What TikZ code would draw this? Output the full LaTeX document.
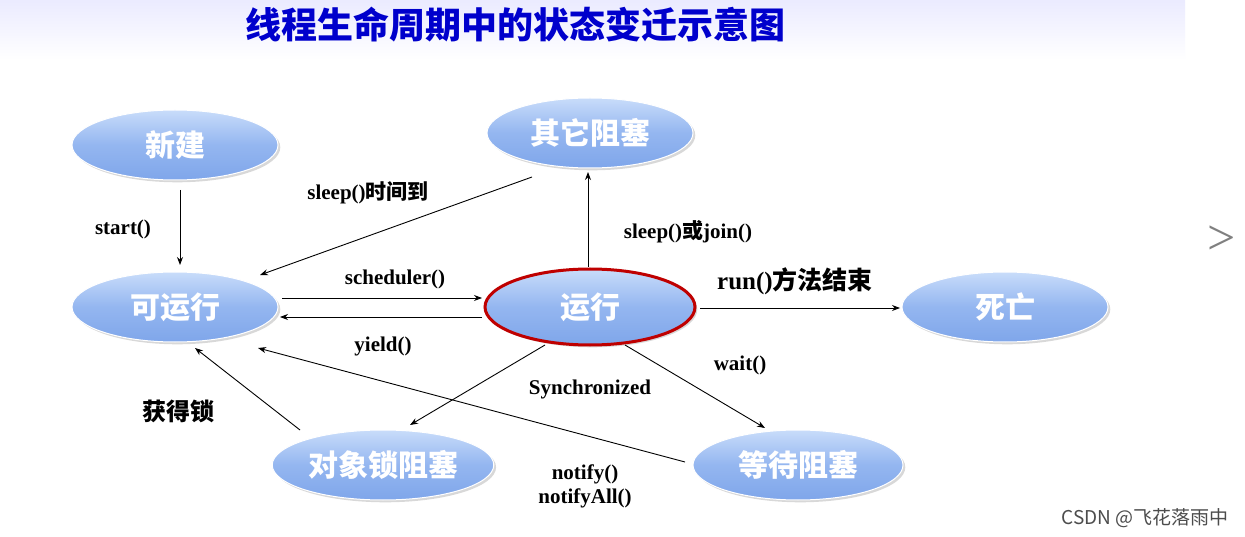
\documentclass[tikz,border=0pt]{standalone}
\usepackage{fontspec}
\setmainfont{Liberation Serif}
\newfontfamily\cjk{Noto Sans CJK SC}
\usetikzlibrary{arrows.meta,shadows,shapes.geometric}
\definecolor{ntop}{HTML}{C8DCFA}
\definecolor{nmid}{HTML}{94B6F0}
\definecolor{nbot}{HTML}{7FA6EA}
\begin{document}
\begin{tikzpicture}[x=1pt,y=-1pt,
  st/.style={ellipse,minimum width=206pt,minimum height=70pt,draw=white,line width=1pt,
    top color=ntop,bottom color=nbot,middle color=nmid,
    font=\cjk\bfseries\fontsize{30}{32}\selectfont,text=white,drop shadow={opacity=0.3}},
  ar/.style={-{Stealth[length=8pt,width=6pt]},line width=0.9pt},
  lb/.style={font=\bfseries\fontsize{21}{24}\selectfont,align=center}]
\useasboundingbox (0,0) rectangle (1245,537);
\fill[white] (0,0) rectangle (1245,537);
\shade[top color=blue!8,bottom color=white] (0,0) rectangle (1185,60);
\node[font=\cjk\bfseries\fontsize{36}{38}\selectfont,text=blue!80!black] (title) at (515,25) {线程生命周期中的状态变迁示意图};
\node[font=\fontsize{50}{50}\selectfont,text=gray] (chev) at (1222,240) {\textgreater};
\node[font=\cjk\fontsize{19}{21}\selectfont,text=gray!60!black] (wm) at (1145,518) {CSDN @飞花落雨中};
\node[st] (new) at (175,145) {新建};
\node[st] (other) at (590,133) {其它阻塞};
\node[st] (ready) at (175,307) {可运行};
\node[st,draw=red!75!black,line width=3pt,minimum width=210pt,minimum height=76pt] (run) at (590,307) {运行};
\node[st] (dead) at (1005,307) {死亡};
\node[st,minimum width=210pt] (lock) at (383,465) {对象锁阻塞};
\node[st,minimum width=210pt] (wait) at (798,465) {等待阻塞};
\coordinate (a1) at (180,190); \coordinate (a2) at (180,265);
\draw[ar] (a1) -- (a2);
\node[lb] (l1) at (123,229) {start()};
\coordinate (b1) at (532,177); \coordinate (b2) at (260,275);
\draw[ar] (b1) -- (b2);
\node[lb] (l2) at (368,193) {sleep()\cjk 时间到};
\coordinate (c1) at (588,267); \coordinate (c2) at (588,172);
\draw[ar] (c1) -- (c2);
\node[lb] (l3) at (688,232) {sleep()\cjk 或\rmfamily join()};
\coordinate (d1) at (282,298); \coordinate (d2) at (482,298);
\draw[ar] (d1) -- (d2);
\node[lb] (l4) at (395,279) {scheduler()};
\coordinate (e1) at (482,317); \coordinate (e2) at (280,317);
\draw[ar] (e1) -- (e2);
\node[lb] (l5) at (383,346) {yield()};
\coordinate (f1) at (700,308); \coordinate (f2) at (900,308);
\draw[ar] (f1) -- (f2);
\node[lb,font=\bfseries\fontsize{25}{27}\selectfont] (l6) at (795,281) {run()\cjk 方法结束};
\coordinate (g1) at (545,345); \coordinate (g2) at (410,425);
\draw[ar] (g1) -- (g2);
\node[lb] (l7) at (590,389) {Synchronized};
\coordinate (h1) at (625,345); \coordinate (h2) at (765,428);
\draw[ar] (h1) -- (h2);
\node[lb] (l8) at (740,365) {wait()};
\coordinate (i1) at (300,430); \coordinate (i2) at (195,348);
\draw[ar] (i1) -- (i2);
\node[lb,font=\cjk\bfseries\fontsize{24}{26}\selectfont] (l9) at (178,411) {获得锁};
\coordinate (j1) at (685,462); \coordinate (j2) at (258,348);
\draw[ar] (j1) -- (j2);
\node[lb] (l10) at (585,486) {notify()\\notifyAll()};
\end{tikzpicture}
\end{document}
